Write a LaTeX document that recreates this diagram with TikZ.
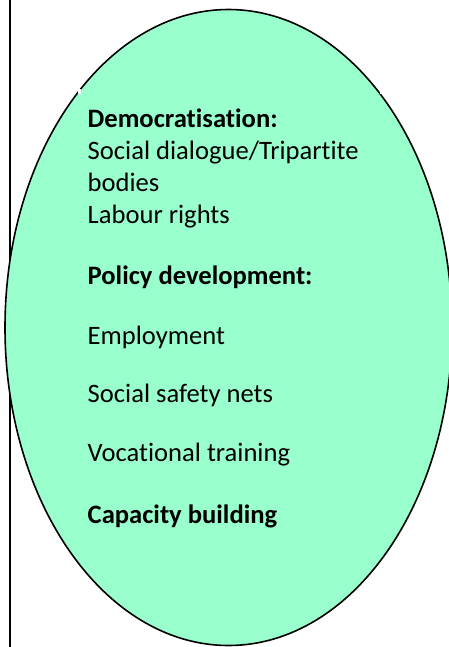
\documentclass[tikz,border=0pt]{standalone}
\usepackage{fontspec}
\usetikzlibrary{shapes.geometric}
\setmainfont{Carlito}[Ligatures=NoCommon]
\definecolor{ovalfill}{HTML}{99FFCC}
\begin{document}
\begin{tikzpicture}[x=1pt,y=-1pt,
  txt/.style={anchor=base west,inner sep=0pt,font=\fontsize{26.6}{30}\selectfont},
  btxt/.style={txt,font=\fontsize{26.6}{30}\selectfont\bfseries}]
\useasboundingbox (0,0) rectangle (448,647);
\draw[line width=2pt] (9.8,0) coordinate (lt) -- (9.8,647) coordinate (lb);
\node[draw=black,line width=1.6pt,fill=ovalfill,
  ellipse,minimum width=447pt,minimum height=636pt,inner sep=0pt] (oval) at (228.5,327.5) {};
\fill[white] (77.5,89) rectangle (80.5,94.5);
\fill[white] (379.5,89) rectangle (382.5,94.5);
\node[btxt] (t1) at (87.5,128) {Democratisation:};
\node[txt] (t2) at (87.5,159.5) {Social dialogue/Tripartite};
\node[txt] (t3) at (87.5,191) {bodies};
\node[txt] (t4) at (87.5,223) {Labour rights};
\node[btxt] (t5) at (87.5,284.5) {Policy development:};
\node[txt] (t6) at (87.5,344) {Employment};
\node[txt] (t7) at (87.5,402) {Social safety nets};
\node[txt] (t8) at (87.5,461.5) {Vocational training};
\node[btxt] (t9) at (87.5,523) {Capacity building};
\end{tikzpicture}
\end{document}
